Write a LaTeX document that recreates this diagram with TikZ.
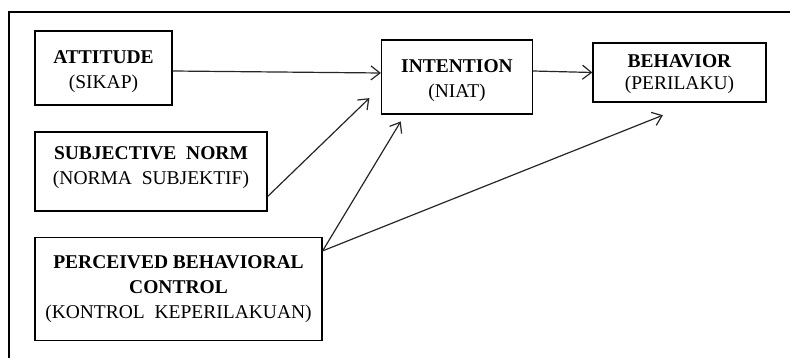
\documentclass[tikz,border=0pt]{standalone}
\usepackage{fontspec}
\setmainfont{Liberation Serif}
\usetikzlibrary{arrows.meta}
\newcommand\topstrut[1][21pt]{\rule{0pt}{#1}}
\begin{document}
\begin{tikzpicture}[x=1pt,y=-1pt,
  box/.style={draw,line width=1.2pt,align=center,inner sep=0pt,font=\fontsize{19.5}{25}\selectfont},
  arr/.style={draw=black!85,line width=1.2pt,-{Straight Barb[length=9pt,width=14pt]}}]
  \useasboundingbox (0,0) rectangle (790,358);
      % frame, only top and left edge are seen
      \draw[line width=1.2pt] (790,12) -- (9,12) -- (9,358);
      \node[box,minimum width=137,minimum height=74] (att) at (103.5,68) {\topstrut\textbf{ATTITUDE}\\(SIKAP)};
      \node[box,minimum width=232,minimum height=79] (subj) at (151,171.5) {\topstrut\textbf{SUBJECTIVE\ \ NORM}\\(NORMA\ \ SUBJEKTIF)\\[-5pt]};
      \node[box,minimum width=287,minimum height=103] (pbc) at (178.5,289) {\textbf{PERCEIVED BEHAVIORAL}\\\textbf{CONTROL}\\(KONTROL\ \ KEPERILAKUAN)};
      \node[box,minimum width=151,minimum height=74] (int) at (457,77) {\topstrut\textbf{INTENTION}\\(NIAT)};
      \node[box,minimum width=173,minimum height=59] (beh) at (679.5,72.5) {\topstrut[17pt]\textbf{BEHAVIOR}\\[-3pt](PERILAKU)};
      % arrows
      \draw[arr] ([yshift=-3pt]att.east) -- ([yshift=4pt]int.west);
      \draw[arr] ([yshift=6pt]int.east) -- (beh.west);
      \draw[arr,shorten >=16pt] ([yshift=-25pt]subj.east) -- ([yshift=-10pt]int.west);
      \draw[arr,shorten >=8pt] ([yshift=-14pt]pbc.north east) -- ([xshift=24pt]int.south west);
      \draw[arr,shorten >=34pt] ([yshift=-14pt]pbc.north east) -- ([xshift=15pt]beh.south);
      %\draw[arr] (att) -- (beh);
\end{tikzpicture}
\end{document}
